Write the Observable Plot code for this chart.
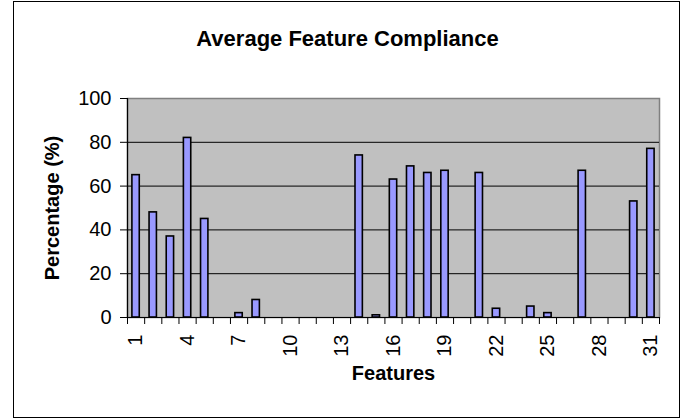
<!DOCTYPE html>
<html>
<head>
<meta charset="utf-8">
<script src="https://cdn.jsdelivr.net/npm/d3@7"></script>
<script src="https://cdn.jsdelivr.net/npm/@observablehq/plot@0.6"></script>
<style>
  html, body { margin: 0; padding: 0; background: #fff; }
  #wrap { position: relative; width: 683px; height: 419px; overflow: hidden; }
  #border { position: absolute; left: 13px; top: 1px; width: 667px; height: 417px; border: 1px solid #000; box-sizing: border-box; pointer-events: none; }
  svg { font-family: "Liberation Sans", Arial, sans-serif; }
</style>
</head>
<body>
<div id="wrap"><div id="border"></div></div>
<script>
const features = d3.range(1, 32);
const values = [65, 48, 37, 82, 45, 0, 2, 8, 0, 0, 0, 0, 0, 74, 1, 63, 69, 66, 67, 0, 66, 4, 0, 5, 2, 0, 67, 0, 0, 53, 77];
const xTickLabels = [1, 4, 7, 10, 13, 16, 19, 22, 25, 28, 31];
const yTicks = [0, 20, 40, 60, 80, 100];
const gridTicks = [20, 40, 60, 80];
const titleText = "Average Feature Compliance";
const xTitle = "Features";
const yTitle = "Percentage (%)";

const data = features.map((f, i) => ({feature: f, value: values[i]}));
const boundaries = d3.range(0, features.length + 1).map(i => features[0] - 0.5 + i);

const chart = Plot.plot({
  width: 683,
  height: 419,
  marginLeft: 127,
  marginRight: 24,
  marginTop: 98,
  marginBottom: 102,
  style: {fontFamily: "'Liberation Sans', Arial, sans-serif", color: "#000", background: "transparent"},
  x: {type: "linear", domain: [features[0] - 0.5, features[features.length - 1] + 0.5]},
  y: {domain: [0, 100]},
  marks: [
    Plot.frame({fill: "#C0C0C0", stroke: "#808080", strokeWidth: 1.5}),
    Plot.ruleY(gridTicks, {y: d => d, stroke: "#000", strokeWidth: 1}),
    Plot.rectY(data.filter(d => d.value > 0), {
      x1: d => d.feature - 0.5, x2: d => d.feature + 0.5, y1: 0, y2: "value",
      insetLeft: 4.9, insetRight: 4.9,
      fill: "#9999FF", stroke: "#000", strokeWidth: 1.6
    }),
    Plot.ruleX([features[0] - 0.5], {stroke: "#000", strokeWidth: 1.2}),
    Plot.ruleY([0], {stroke: "#000", strokeWidth: 1.2}),
    Plot.axisY({ticks: yTicks, tickSize: 7, tickPadding: 9, fontSize: 20, label: null, stroke: "#000"}),
    Plot.axisX({ticks: boundaries, tickSize: 7, tickFormat: () => "", label: null, stroke: "#000"}),
    Plot.axisX({ticks: xTickLabels, tickSize: 0, tickPadding: 17, tickRotate: -90, fontSize: 20, label: null}),
    Plot.text([xTitle], {frameAnchor: "bottom", dy: 62, fontSize: 20, fontWeight: "bold", fill: "#000"}),
    Plot.text([yTitle], {frameAnchor: "left", textAnchor: "middle", dx: -75, rotate: -90, fontSize: 20, fontWeight: "bold", fill: "#000"}),
    Plot.text([titleText], {frameAnchor: "top", dx: -46, dy: -68, fontSize: 22, fontWeight: "bold", fill: "#000"})
  ]
});
document.getElementById("wrap").appendChild(chart);
</script>
</body>
</html>
